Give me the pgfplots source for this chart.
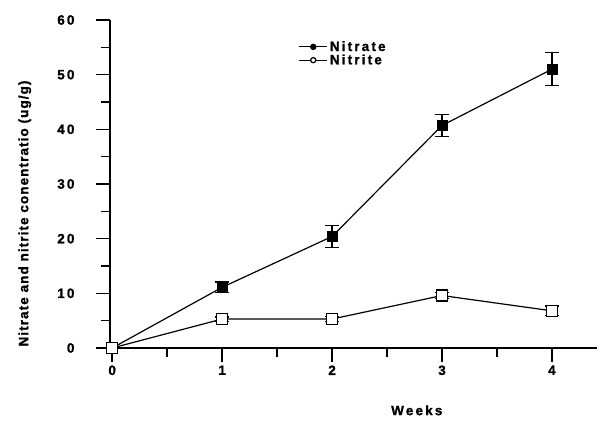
\documentclass[border=0pt]{standalone}
\usepackage{fontspec}
\setmainfont{Liberation Sans}
\newfontfamily\widefont{Liberation Sans}[LetterSpace=16,FakeBold=1.2]
\newfontfamily\midfont{Liberation Sans}[LetterSpace=8,FakeBold=1.2]
\usepackage{pgfplots}
\pgfplotsset{compat=1.18}
\begin{document}
\begin{tikzpicture}
\path[use as bounding box] (-110pt,-77pt) rectangle (489pt,348pt);
\begin{axis}[
  scale only axis, width=487pt, height=328pt,
  xmin=-0.02, xmax=4.41, ymin=0, ymax=60,
  axis lines*=left,
  axis line style={line width=1.6pt},
  xtick={0,1,2,3,4}, minor xtick={0.5,1.5,2.5,3.5},
  ytick={0,10,...,60}, minor ytick={5,15,...,55},
  tick align=outside, major tick length=14pt, minor tick length=9pt,
  tick style={line width=1.4pt, black},
  ticklabel style={font=\widefont\bfseries\fontsize{13.5}{15}\selectfont},
  yticklabel style={xshift=-18pt},
  /pgf/number format/assume math mode=true,
  xlabel={Weeks},
  ylabel={Nitrate and nitrite conentratio (ug/g)},
  xlabel style={font=\widefont\bfseries\fontsize{13.5}{15}\selectfont, at={(axis description cs:0.63,-0.19)}, anchor=center},
  ylabel style={font=\midfont\bfseries\fontsize{13.5}{15}\selectfont, at={(axis description cs:-0.175,0.41)}, anchor=center, rotate=0},
  clip=false,
  legend style={draw=none, fill=none, at={(axis description cs:0.385,0.945)}, anchor=north west,
    font=\widefont\bfseries\fontsize{13.5}{15}\selectfont, row sep=-2pt, inner sep=1pt},
  legend cell align=left,
  legend image code/.code={\draw[#1, mark repeat=2, mark phase=2] plot coordinates {(0pt,0pt) (14pt,0pt) (28pt,0pt)};},
]
\addplot+[forget plot, black, line width=1.2pt, mark=square*, mark size=5pt, mark options={fill=black, line width=0.8pt},
  error bars/.cd, y dir=both, y explicit,
  error bar style={line width=1.4pt, black},
  error mark options={rotate=90, mark size=7pt, line width=1.4pt, black}]
  coordinates {(0,0) +- (0,0) (1,11.1) +- (0,1.0) (2,20.4) +- (0,2.0) (3,40.7) +- (0,2.0) (4,51.0) +- (0,3.0)};
\addplot+[forget plot, black, line width=1.2pt, mark=square*, mark size=5.5pt, mark options={fill=white, line width=1.6pt},
  error bars/.cd, y dir=both, y explicit,
  error bar style={line width=1.4pt, black},
  error mark options={rotate=90, mark size=7pt, line width=1.4pt, black}]
  coordinates {(0,0) +- (0,0) (1,5.3) +- (0,0.4) (2,5.3) +- (0,0.5) (3,9.6) +- (0,0.5) (4,6.8) +- (0,0.9)};
\addlegendimage{black, line width=1.2pt, mark=*, mark size=2.6pt, mark options={fill=black}}
\addlegendentry{Nitrate}
\addlegendimage{black, line width=1.2pt, mark=*, mark size=2.6pt, mark options={fill=white}}
\addlegendentry{Nitrite}
\draw[line width=1.6pt] (axis cs:-0.14,0) -- (axis cs:-0.02,0);
\end{axis}
\end{tikzpicture}
\end{document}
